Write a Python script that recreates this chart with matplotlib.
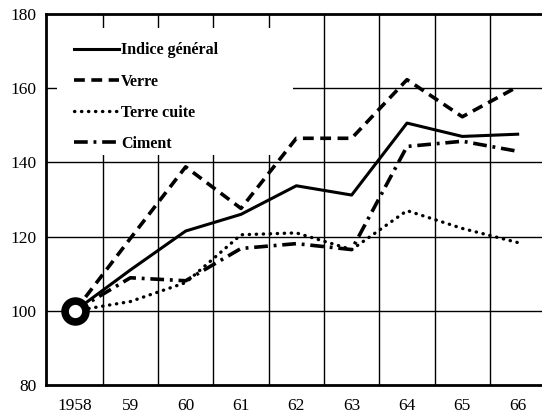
import matplotlib
matplotlib.use("Agg")
import matplotlib.pyplot as plt
from matplotlib.patches import Rectangle

years = ["1958", "59", "60", "61", "62", "63", "64", "65", "66"]
indice_general = [100, 111, 121.5, 126, 133.7, 131.2, 150.6, 147.0, 147.6]
verre = [100, 119.5, 138.8, 127.6, 146.5, 146.5, 162.3, 152.3, 160.4]
terre_cuite = [100, 102.5, 107.6, 120.5, 121.0, 116.5, 127.0, 122.2, 118.4]
ciment = [100, 108.9, 108.1, 116.8, 118.1, 116.5, 144.3, 145.7, 143.0]

plt.rcParams['font.family'] = ['Liberation Serif', 'DejaVu Serif']

fig = plt.figure(figsize=(5.42, 4.16), dpi=100)
ax = fig.add_axes([46 / 542, 1 - 385 / 416, 496 / 542, 371 / 416])

x = list(range(len(years)))

ax.plot(x, indice_general, color='black', lw=2.2, label='Indice général', zorder=3)
ax.plot(x, verre, color='black', lw=2.6, dashes=(3.0, 1.8), label='Verre', zorder=3)
ax.plot(x, terre_cuite, color='black', lw=2.4, dashes=(0.1, 2.0),
        dash_capstyle='round', label='Terre cuite', zorder=3)
ax.plot(x, ciment, color='black', lw=2.6, dashes=(3.8, 1.6, 0.8, 1.6),
        label='Ciment', zorder=3)

# base point circle
ax.plot([0], [100], marker='o', markersize=15, markerfacecolor='white',
        markeredgecolor='black', markeredgewidth=5.5, zorder=5, clip_on=False)

ax.set_xlim(-0.524, 8.44)
ax.set_ylim(80, 180)

# grid: horizontal at values, vertical between years
for v in [100, 120, 140, 160]:
    ax.axhline(v, color='black', lw=1.0, zorder=1)
for i in range(len(years) - 1):
    ax.axvline(i + 0.5, color='black', lw=1.0, zorder=1)

# white area behind the legend hides the grid
ax.add_patch(Rectangle((11 / 496, (385 - 155) / 371), (293 - 57) / 496, 127 / 371,
                       transform=ax.transAxes, facecolor='white',
                       edgecolor='none', zorder=2))

ax.set_xticks(x)
ax.set_xticklabels(years, fontsize=12.5)
ax.set_yticks([80, 100, 120, 140, 160, 180])
ax.set_yticklabels(["80", "100", "120", "140", "160", "180"], fontsize=12.5)
ax.tick_params(length=0, pad=9)
ax.tick_params(axis='y', pad=7)

for s in ['left', 'bottom', 'top']:
    ax.spines[s].set_linewidth(2.0)
ax.spines['right'].set_visible(False)

leg = ax.legend(loc='upper left', bbox_to_anchor=(0.04, 0.945), fontsize=11.5,
                handlelength=2.8, handletextpad=0.15, labelspacing=0.95,
                borderpad=0.5, borderaxespad=0.0, frameon=False)
for t in leg.get_texts():
    t.set_fontweight('bold')
leg.set_zorder(4)

fig.savefig("out.png", dpi=100)
